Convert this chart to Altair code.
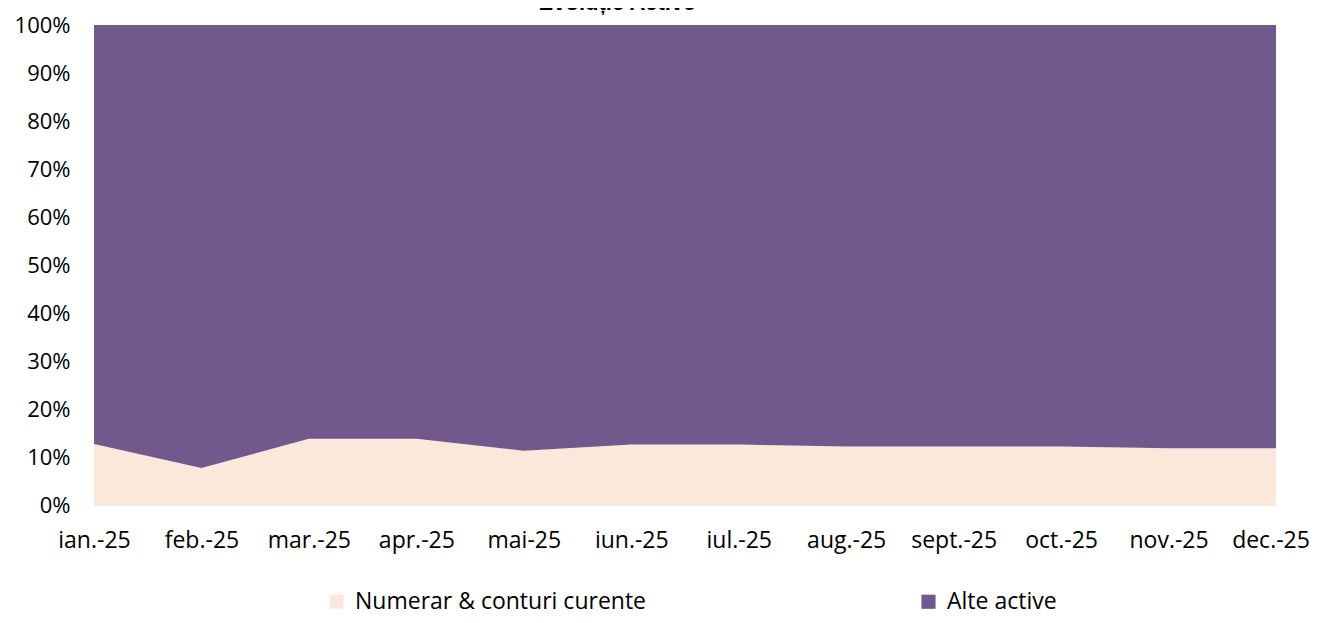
import altair as alt
import pandas as pd

months = ["ian.-25", "feb.-25", "mar.-25", "apr.-25", "mai-25", "iun.-25",
          "iul.-25", "aug.-25", "sept.-25", "oct.-25", "nov.-25", "dec.-25"]
numerar = [12.7, 7.7, 13.8, 13.8, 11.3, 12.6, 12.6, 12.2, 12.2, 12.2, 11.8, 11.8]
alte = [87.3, 92.3, 86.2, 86.2, 88.7, 87.4, 87.4, 87.8, 87.8, 87.8, 88.2, 88.2]
series = ["Numerar & conturi curente", "Alte active"]
colors = ["#FCE8DA", "#71598E"]
title_text = "Evoluție Active"

rows = []
for i, m in enumerate(months):
    rows.append({"luna": m, "serie": series[0], "val": numerar[i], "ord": 0})
    rows.append({"luna": m, "serie": series[1], "val": alte[i], "ord": 1})
df = pd.DataFrame(rows)

FONT = "Open Sans"
last = months[-1]

xenc = alt.X("luna:N", sort=months, scale=alt.Scale(type="point", padding=0),
             axis=alt.Axis(title=None, labelAngle=0, labelFontSize=23, labelFont=FONT,
                           labelColor="#000000", ticks=False, domainColor="#EEEEEE",
                           domainWidth=1, labelPadding=24, grid=False,
                           labelExpr=f"datum.value == '{last}' ? '' : datum.label"))

area = alt.Chart(df).mark_area(interpolate="linear").encode(
    x=xenc,
    y=alt.Y("val:Q", stack="normalize",
            scale=alt.Scale(domain=[0, 1]),
            axis=alt.Axis(title=None, format=".0%", values=[i / 10 for i in range(11)],
                          labelFontSize=22, labelFont=FONT, labelColor="#000000",
                          ticks=False, domain=False, grid=False, labelPadding=24)),
    color=alt.Color("serie:N", scale=alt.Scale(domain=series, range=colors),
                    legend=alt.Legend(title=None, orient="none", direction="horizontal",
                                      legendX=231, legendY=565, symbolType="square",
                                      symbolSize=200, symbolStrokeWidth=0,
                                      labelFontSize=23, labelFont=FONT, labelColor="#000000",
                                      labelLimit=500, columnPadding=270, labelOffset=7)),
    order=alt.Order("ord:Q"),
)

last_label = alt.Chart(pd.DataFrame({"luna": [last]})).mark_text(
    fontSize=23, font=FONT, color="#000000", baseline="top", align="center", dx=-5
).encode(x=alt.X("luna:N", sort=months), y=alt.value(505), text="luna:N")

title = alt.Chart(pd.DataFrame({"t": [title_text]})).mark_text(
    fontSize=22, fontWeight="bold", font="Liberation Sans", color="#000000",
    baseline="alphabetic", align="center"
).encode(x=alt.value(523), y=alt.value(-15), text="t:N")

chart = alt.layer(area, last_label, title).properties(
    width=1182, height=480,
    autosize=alt.AutoSizeParams(type="none"),
    padding={"left": 86, "top": 17, "right": 33, "bottom": 110},
).configure_view(stroke=None)

chart.save("out.html", embed_options={"renderer": "svg", "actions": False})
